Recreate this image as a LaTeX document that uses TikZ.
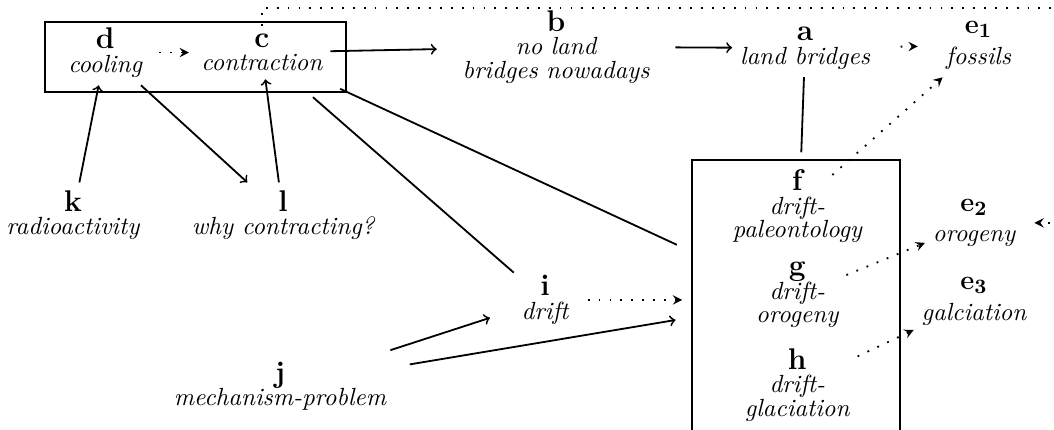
\documentclass[tikz,border=0pt]{standalone}
\usepackage{amsmath, amssymb}
\usepackage{tikz}
\usetikzlibrary{arrows}

\tikzset{
	idea/.style={align=center, font=\fontsize{10.95}{10.4}\selectfont\itshape},
	frame/.style={draw, thick, inner sep=0pt},
}
\newcommand{\lbl}[1]{{\fontsize{13.2}{10.4}\selectfont\upshape\bfseries #1}}

\begin{document}
\begin{tikzpicture}
		\useasboundingbox (0,0) rectangle (16.34,6.665);
		\clip (0,0) rectangle (16.34,6.665);
		%
		\node[frame, minimum width=4.67cm, minimum height=1.085cm] (DC) at (3.03,5.78) {};
		\node[frame, minimum width=3.22cm, minimum height=4.34cm] (FGH) at (12.34,2.015) {};
		%
		\node[idea] (d) at (1.63,5.85) {\lbl{d}\\ cooling};
		\node[idea] (c) at (4.06,5.85) {\lbl{c}\\ contraction};
		\node[idea, text width=3.45cm] (b) at (8.62,5.94) {\lbl{b}\\ no land\\ bridges nowadays};
		\node[idea] (a) at (12.48,5.92) {\lbl{a}\\ land bridges};
		\node[idea] (e1) at (15.17,5.96) {\lbl{$\mathbf{e_1}$}\\[3pt] fossils};
		\node[idea] (k) at (1.13,3.33) {\lbl{k}\\ radioactivity};
		\node[idea] (l) at (4.39,3.33) {\lbl{l}\\ why contracting?};
		\node[idea] (i) at (8.45,2.015) {\lbl{i}\\ drift};
		\node[idea] (j) at (4.34,0.68) {\lbl{j}\\ mechanism-problem};
		\node[idea] (f) at (12.36,3.47) {\lbl{f}\\ drift-\\ paleontology};
		\node[idea] (g) at (12.36,2.09) {\lbl{g}\\ drift-\\ orogeny};
		\node[idea] (h) at (12.36,0.70) {\lbl{h}\\ drift-\\ glaciation};
		\node[idea] (e2) at (15.10,3.21) {\lbl{$\mathbf{e_2}$}\\[3pt] orogeny};
		\node[idea] (e3) at (15.10,1.99) {\lbl{$\mathbf{e_3}$}\\[3pt] galciation};
		\coordinate (corner) at (16.8,6.54);
		%
		\path[->,thick]
		(k) edge (d)
		(d) edge (l)
		(l) edge (c)
		(c) edge (b)
		(b) edge (a)
		(j) edge[shorten <=5pt, shorten >=11pt] (i)
		(j) edge[shorten <=7pt, shorten >=7pt] (FGH);
		%
		\path[thick]
		(c) edge[shorten <=12pt] (i)
		(c) edge[shorten <=10pt, shorten >=7pt] (FGH)
		(a) edge[shorten >=3pt] (FGH);
		%
		\path[-stealth,thick,loosely dotted]
		(d) edge[shorten <=4pt, shorten >=2pt] (c)
		(a) edge[shorten <=10pt, shorten >=9pt] (e1)
		(f) edge[shorten <=-9pt] (e1)
		(i) edge[shorten <=5pt, shorten >=4pt] (FGH)
		(g) edge (e2)
		(h) edge (e3);
		\draw[-stealth,thick,loosely dotted,shorten >=5pt] (c.north) |- (corner) |- (e2.east);
		\end{tikzpicture}
\end{document}
